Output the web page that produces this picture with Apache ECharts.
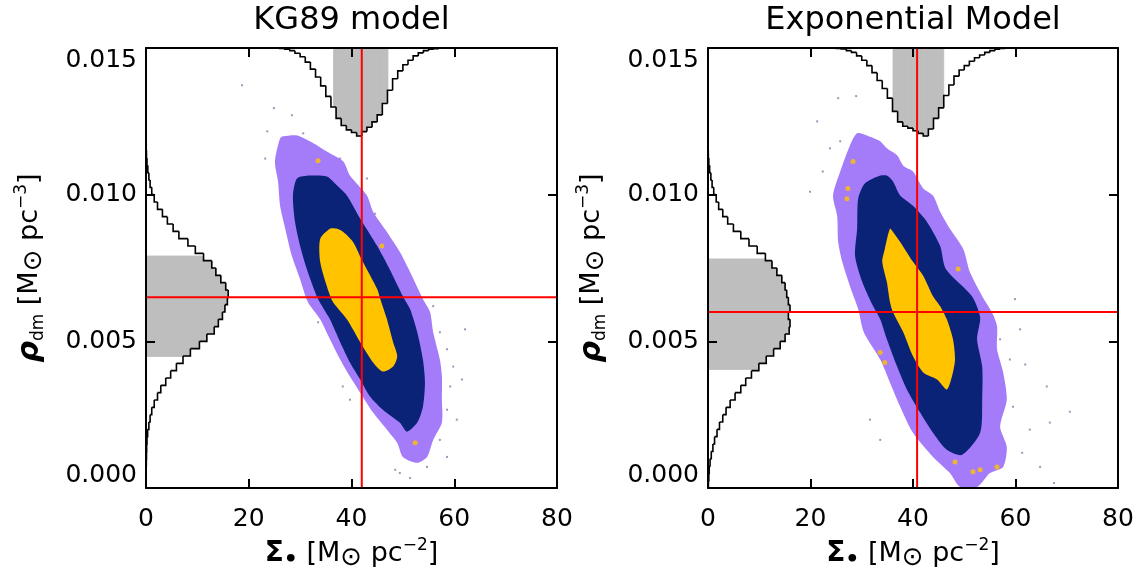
<!DOCTYPE html>
<html>
<head>
<meta charset="utf-8">
<script src="https://cdn.jsdelivr.net/npm/echarts@6/dist/echarts.min.js"></script>
<style>
html,body{margin:0;padding:0;background:#ffffff;}
#chart{width:1143px;height:580px;}
</style>
</head>
<body>
<div id="chart"></div>
<script>
// ---------------- DATA ----------------
const panelTitles = ['KG89 model', 'Exponential Model'];
const sigmaRange = [0, 80];
const rhoRange = [0, 0.015];
const sigmaTickStep = 20;
const rhoTickStep = 0.005;

// best-fit values (red cross-hair): [Sigma*, rho_dm]
const bestKG89 = [42.0, 0.0065];
const bestExp = [40.8, 0.0060];

// Marginal histogram of Sigma* (normalised to peak = 1), bins of width 1 starting at 25
const sigmaBinStart = 25;
const sigmaBinWidth = 1;
const sigmaHistKG89 = [0,0.005,0.015,0.03,0.06,0.10,0.16,0.24,0.33,0.43,0.55,0.67,0.80,0.88,0.93,0.96,1.0,0.95,0.90,0.84,0.76,0.63,0.48,0.35,0.26,0.19,0.14,0.09,0.055,0.03,0.015,0.007,0.002,0];
const sigmaHistExp  = [0.005,0.01,0.03,0.05,0.09,0.14,0.20,0.28,0.37,0.46,0.57,0.72,0.84,0.89,0.91,0.94,0.97,1.0,0.92,0.80,0.68,0.54,0.42,0.32,0.25,0.20,0.15,0.11,0.08,0.05,0.03,0.015,0.005,0];
// shaded (1-sigma) intervals of Sigma*
const sigmaShadeKG89 = [36.5, 47.1];
const sigmaShadeExp  = [36.1, 46.0];

// Marginal histogram of rho_dm (normalised to peak = 1), bins of width 0.00025 starting at 0
const rhoBinStart = 0;
const rhoBinWidth = 0.00025;
const rhoHistKG89 = [0,0,0.002,0.004,0.006,0.008,0.012,0.02,0.035,0.05,0.07,0.10,0.14,0.18,0.24,0.30,0.37,0.45,0.54,0.65,0.74,0.83,0.88,0.93,0.96,0.99,1.0,0.97,0.91,0.85,0.80,0.70,0.60,0.51,0.40,0.33,0.26,0.20,0.14,0.10,0.07,0.05,0.035,0.022,0.012,0.006,0.003,0.001,0,0];
const rhoHistExp  = [0.005,0.01,0.015,0.025,0.04,0.06,0.08,0.11,0.14,0.18,0.22,0.27,0.33,0.40,0.46,0.53,0.62,0.71,0.80,0.88,0.94,0.99,1.0,0.98,1.0,0.98,0.96,0.94,0.90,0.84,0.78,0.70,0.60,0.50,0.40,0.31,0.24,0.18,0.13,0.10,0.07,0.05,0.035,0.02,0.01,0.004,0,0,0,0];
const rhoShadeKG89 = [0.00449, 0.00791];
const rhoShadeExp  = [0.00404, 0.00781];

// Credible-region outlines [Sigma*, rho_dm]
const kg89Outer = [[26.1,0.01192],[25.1,0.01113],[25.7,0.01045],[26.1,0.00962],[27.1,0.00884],[28.4,0.00791],[30.0,0.00712],[31.5,0.00634],[33.9,0.00575],[35.8,0.00507],[37.8,0.00438],[39.7,0.00380],[41.7,0.00325],[44.2,0.00257],[46.9,0.00199],[48.9,0.00154],[50.0,0.00106],[52.8,0.00086],[54.7,0.00106],[55.9,0.00164],[57.6,0.00223],[57.6,0.00301],[57.6,0.00380],[57.2,0.00438],[55.9,0.00531],[55.3,0.00599],[53.9,0.00644],[51.4,0.00736],[49.4,0.00805],[46.9,0.00873],[44.2,0.00942],[43.0,0.00997],[39.7,0.01065],[38.4,0.01113],[35.2,0.01147],[31.9,0.01182],[29.4,0.01202],[26.7,0.01199]];
const kg89Mid = [[29.4,0.01055],[28.6,0.00997],[29.0,0.00908],[30.0,0.00825],[31.3,0.00747],[33.5,0.00644],[35.8,0.00575],[37.8,0.00497],[39.7,0.00428],[41.7,0.00370],[43.6,0.00312],[46.1,0.00267],[49.4,0.00223],[50.8,0.00192],[52.8,0.00223],[53.9,0.00277],[54.3,0.00360],[53.9,0.00438],[52.8,0.00531],[51.4,0.00610],[50.0,0.00654],[47.4,0.00747],[45.0,0.00825],[41.7,0.00918],[39.1,0.00997],[37.2,0.01031],[35.2,0.01062],[31.9,0.01065]];
const kg89Inner = [[35.8,0.00884],[33.9,0.00849],[33.9,0.00771],[35.2,0.00688],[36.4,0.00634],[39.1,0.00575],[41.7,0.00497],[44.2,0.00428],[46.1,0.00397],[48.1,0.00414],[48.9,0.00449],[48.1,0.00497],[46.9,0.00575],[45.6,0.00644],[45.0,0.00678],[42.2,0.00771],[40.3,0.00839],[38.4,0.00873],[37.2,0.00884]];

const expOuter = [[29.1,0.01209],[27.7,0.01168],[25.8,0.01079],[24.4,0.00997],[25.2,0.00928],[25.4,0.00839],[26.2,0.00771],[27.7,0.00688],[29.3,0.00610],[30.4,0.00531],[33.6,0.00438],[35.5,0.00360],[37.5,0.00277],[40.0,0.00188],[43.9,0.00106],[47.2,0.00051],[49.2,0.00003],[52.5,0.00003],[55.0,0.00051],[57.6,0.00072],[58.3,0.00140],[57.0,0.00209],[58.3,0.00301],[57.6,0.00394],[56.4,0.00473],[56.4,0.00551],[55.4,0.00599],[53.5,0.00654],[51.1,0.00736],[49.8,0.00815],[47.2,0.00884],[45.3,0.00942],[43.9,0.00997],[42.0,0.01021],[40.0,0.01079],[38.1,0.01099],[36.9,0.01134],[34.9,0.01158],[33.6,0.01182],[31.0,0.01202]];
const expMid = [[33.6,0.01065],[30.6,0.01038],[29.3,0.00986],[29.1,0.00884],[28.7,0.00791],[30.1,0.00702],[32.0,0.00627],[33.6,0.00575],[34.9,0.00507],[36.9,0.00414],[38.8,0.00336],[41.4,0.00257],[43.9,0.00188],[46.6,0.00130],[49.6,0.00113],[53.1,0.00188],[53.5,0.00301],[53.5,0.00414],[52.5,0.00507],[53.1,0.00582],[51.5,0.00654],[46.4,0.00747],[45.3,0.00825],[42.7,0.00908],[40.0,0.00962],[37.5,0.00997],[36.1,0.01045],[34.9,0.01065]];
const expInner = [[35.5,0.00884],[34.5,0.00815],[34.0,0.00771],[34.9,0.00702],[35.5,0.00634],[36.1,0.00599],[38.1,0.00531],[40.0,0.00449],[42.0,0.00394],[44.7,0.00370],[46.6,0.00336],[47.6,0.00380],[48.2,0.00438],[47.8,0.00507],[46.6,0.00575],[45.3,0.00620],[43.9,0.00654],[42.0,0.00723],[40.0,0.00771],[37.5,0.00839],[36.1,0.00873]];

// isolated samples outside the regions
const kg89Specks = [[18.7,0.01373],[24.9,0.01295],[28.4,0.01271],[23.6,0.01216],[30.6,0.01209],[23.2,0.01123],[37.8,0.01123],[43.0,0.01055],[44.6,0.00935],[55.9,0.0062],[57.2,0.00531],[58.6,0.00473],[59.8,0.00414],[59.2,0.00346],[58.6,0.00267],[60.5,0.00233],[57.2,0.00164],[54.7,0.00072],[49.4,0.00051],[58.6,0.00106],[33.5,0.00565],[38.3,0.00346],[39.7,0.00301],[62.1,0.00541],[61.5,0.0037],[48.5,0.00062],[51.4,0.00034]];
const expSpecks = [[21.3,0.0125],[25.4,0.01329],[28.9,0.01336],[22.4,0.01079],[23.8,0.01158],[19.9,0.0101],[25.8,0.01182],[58.9,0.00438],[57.0,0.00507],[59.5,0.00277],[61.9,0.00421],[66.1,0.00346],[70.6,0.0026],[66.7,0.00223],[67.5,0.00017],[64.8,0.00072],[61.3,0.0012],[62.8,0.00199],[59.9,0.00644],[60.9,0.00541],[31.6,0.00233],[33.6,0.00164]];
const kg89YellowSpecks = [[33.5,0.01116],[52.4,0.00154],[45.9,0.00825]];
const expYellowSpecks = [[28.3,0.01113],[27.3,0.01021],[27.1,0.00986],[48.8,0.00747],[34.5,0.00428],[33.6,0.00462],[56.4,0.00072],[53.1,0.00062],[51.7,0.00055],[48.2,0.00089]];

// ---------------- STYLE / LAYOUT ----------------
const FONT = 'DejaVu Sans';
const C_OUTER = '#a47cf9', C_MID = '#0a2377', C_INNER = '#ffc300', C_SHADE = '#bebebe', C_RED = '#ff0000';
const grids = [
  {left:146, top:48, width:411, height:440},
  {left:708, top:48, width:410, height:440}
];
const HIST_MAX = 5;

const panels = [
  {title: panelTitles[0], best: bestKG89, sHist: sigmaHistKG89, sShade: sigmaShadeKG89, rHist: rhoHistKG89, rShade: rhoShadeKG89,
   polys: [kg89Outer, kg89Mid, kg89Inner], specks: kg89Specks, ySpecks: kg89YellowSpecks},
  {title: panelTitles[1], best: bestExp, sHist: sigmaHistExp, sShade: sigmaShadeExp, rHist: rhoHistExp, rShade: rhoShadeExp,
   polys: [expOuter, expMid, expInner], specks: expSpecks, ySpecks: expYellowSpecks}
];

const richName = {
  r: {fontSize: 30, fontWeight: 'bold', fontStyle: 'italic', fontFamily: FONT, color: '#000', lineHeight: 34},
  g: {fontSize: 28, fontWeight: 'bold', fontFamily: FONT, color: '#000', lineHeight: 34},
  n: {fontSize: 27, fontFamily: FONT, color: '#000', lineHeight: 34},
  s: {fontSize: 17, fontFamily: FONT, color: '#000', lineHeight: 16, verticalAlign: 'bottom'},
  o: {fontSize: 26, fontFamily: FONT, color: '#000', lineHeight: 22, verticalAlign: 'bottom'},
  d: {fontSize: 22, fontWeight: 'bold', fontFamily: FONT, color: '#000', lineHeight: 18, verticalAlign: 'bottom'},
  u: {fontSize: 17, fontFamily: FONT, color: '#000', lineHeight: 16, verticalAlign: 'top'}
};

const axisLineStyle = {show: true, onZero: false, lineStyle: {color: '#000', width: 2}};
const tickStyle = {show: true, inside: true, length: 9, lineStyle: {color: '#000', width: 2}};
const labelStyle = {fontSize: 25, fontFamily: FONT, color: '#000'};

const xAxes = [], yAxes = [], series = [];

function histBins(start, width, values) {
  return values.map((h, k) => [start + k * width, start + (k + 1) * width, h, k > 0 ? values[k - 1] : 0, k === values.length - 1 ? 1 : 0]);
}

panels.forEach((p, i) => {
  const xi = 3 * i, yi = 3 * i;
  xAxes.push(
    {gridIndex: i, type: 'value', min: sigmaRange[0], max: sigmaRange[1], interval: sigmaTickStep, position: 'bottom', z: 10,
     axisLine: axisLineStyle, axisTick: tickStyle, splitLine: {show: false},
     axisLabel: Object.assign({margin: 19}, labelStyle),
     name: '{g|Σ}{d|•}{n| [M}{o|⊙}{n| pc}{u|−2}{n|]}', nameLocation: 'middle', nameGap: 44,
     nameTextStyle: {rich: richName}},
    {gridIndex: i, type: 'value', min: sigmaRange[0], max: sigmaRange[1], interval: sigmaTickStep, position: 'top', z: 10,
     axisLine: axisLineStyle, axisTick: tickStyle, splitLine: {show: false}, axisLabel: {show: false}},
    {gridIndex: i, type: 'value', min: 0, max: HIST_MAX, show: false}
  );
  yAxes.push(
    {gridIndex: i, type: 'value', min: rhoRange[0], max: rhoRange[1], interval: rhoTickStep, position: 'left', z: 10,
     axisLine: axisLineStyle, axisTick: tickStyle, splitLine: {show: false},
     axisLabel: Object.assign({margin: 9, formatter: v => v.toFixed(3), verticalAlignMinLabel: 'bottom', verticalAlignMaxLabel: 'top'}, labelStyle),
     name: '{r|ρ}{s|dm}{n| [M}{o|⊙}{n| pc}{u|−3}{n|]}', nameLocation: 'middle', nameGap: 99, nameRotate: 90,
     nameTextStyle: {rich: richName}},
    {gridIndex: i, type: 'value', min: rhoRange[0], max: rhoRange[1], interval: rhoTickStep, position: 'right', z: 10,
     axisLine: axisLineStyle, axisTick: tickStyle, splitLine: {show: false}, axisLabel: {show: false}},
    {gridIndex: i, type: 'value', min: 0, max: HIST_MAX, inverse: true, show: false}
  );

  const sBins = histBins(sigmaBinStart, sigmaBinWidth, p.sHist);
  const rBins = histBins(rhoBinStart, rhoBinWidth, p.rHist);

  // shaded part of Sigma* histogram (hangs from the top)
  series.push({type: 'custom', xAxisIndex: xi, yAxisIndex: yi + 2, z: 1, silent: true, clip: true, data: sBins,
    renderItem: (params, api) => {
      const a = Math.max(api.value(0), p.sShade[0]), b = Math.min(api.value(1), p.sShade[1]), h = api.value(2);
      if (b <= a || h <= 0) return null;
      const p0 = api.coord([a, 0]), p1 = api.coord([b, h]);
      return {type: 'rect', shape: {x: p0[0], y: p0[1], width: p1[0] - p0[0], height: p1[1] - p0[1]},
        style: {fill: C_SHADE, stroke: C_SHADE, lineWidth: 0.8}};
    }});
  // shaded part of rho histogram (grows from the left)
  series.push({type: 'custom', xAxisIndex: xi + 2, yAxisIndex: yi, z: 1, silent: true, clip: true, data: rBins,
    encode: {y: [0, 1], x: 2},
    renderItem: (params, api) => {
      const a = Math.max(api.value(0), p.rShade[0]), b = Math.min(api.value(1), p.rShade[1]), h = api.value(2);
      if (b <= a || h <= 0) return null;
      const p0 = api.coord([0, a]), p1 = api.coord([h, b]);
      return {type: 'rect', shape: {x: p0[0], y: p1[1], width: p1[0] - p0[0], height: p0[1] - p1[1]},
        style: {fill: C_SHADE, stroke: C_SHADE, lineWidth: 0.8}};
    }});

  // credible regions
  [C_OUTER, C_MID, C_INNER].forEach((col, k) => {
    const poly = p.polys[k];
    series.push({type: 'custom', xAxisIndex: xi, yAxisIndex: yi, z: 2 + k * 0.1, silent: true, clip: true, data: poly,
      renderItem: (params, api) => params.dataIndex === 0 ? {
        type: 'polygon', shape: {points: poly.map(pt => api.coord(pt)), smooth: 0.25},
        style: {fill: col}} : null});
  });

  series.push({type: 'scatter', xAxisIndex: xi, yAxisIndex: yi, z: 3, silent: true, data: p.specks,
    symbol: 'rect', symbolSize: 2, itemStyle: {color: '#8a7aa8'}});
  series.push({type: 'scatter', xAxisIndex: xi, yAxisIndex: yi, z: 3, silent: true, data: p.ySpecks,
    symbol: 'circle', symbolSize: 5, itemStyle: {color: C_INNER}});

  // histogram outlines
  series.push({type: 'custom', xAxisIndex: xi, yAxisIndex: yi + 2, z: 4, silent: true, clip: true, data: sBins,
    renderItem: (params, api) => {
      const lo = api.value(0), hi = api.value(1), h = api.value(2), hp = api.value(3), last = api.value(4);
      const pts = [api.coord([lo, hp]), api.coord([lo, h]), api.coord([hi, h])];
      if (last) pts.push(api.coord([hi, 0]));
      return {type: 'polyline', shape: {points: pts}, style: {stroke: '#000', lineWidth: 1.6, fill: null}};
    }});
  series.push({type: 'custom', xAxisIndex: xi + 2, yAxisIndex: yi, z: 4, silent: true, clip: true, data: rBins,
    encode: {y: [0, 1], x: 2},
    renderItem: (params, api) => {
      const lo = api.value(0), hi = api.value(1), h = api.value(2), hp = api.value(3), last = api.value(4);
      const pts = [api.coord([hp, lo]), api.coord([h, lo]), api.coord([h, hi])];
      if (last) pts.push(api.coord([0, hi]));
      return {type: 'polyline', shape: {points: pts}, style: {stroke: '#000', lineWidth: 1.6, fill: null}};
    }});

  // best-fit cross-hair
  series.push({type: 'line', xAxisIndex: xi, yAxisIndex: yi, z: 6, silent: true, symbol: 'none',
    data: [[p.best[0], rhoRange[0]], [p.best[0], rhoRange[1]]], lineStyle: {color: C_RED, width: 2}});
  series.push({type: 'line', xAxisIndex: xi, yAxisIndex: yi, z: 6, silent: true, symbol: 'none',
    data: [[sigmaRange[0], p.best[1]], [sigmaRange[1], p.best[1]]], lineStyle: {color: C_RED, width: 2}});
});

const chart = echarts.init(document.getElementById('chart'), null, {renderer: 'canvas'});
chart.setOption({
  animation: false,
  backgroundColor: '#ffffff',
  grid: grids,
  xAxis: xAxes,
  yAxis: yAxes,
  series: series,
  graphic: panels.map((p, i) => ({
    type: 'text', x: grids[i].left + grids[i].width / 2, y: 21,
    style: {text: p.title, fontSize: 32, fontFamily: FONT, fill: '#000', align: 'center', verticalAlign: 'middle'}
  }))
});
</script>
</body>
</html>
